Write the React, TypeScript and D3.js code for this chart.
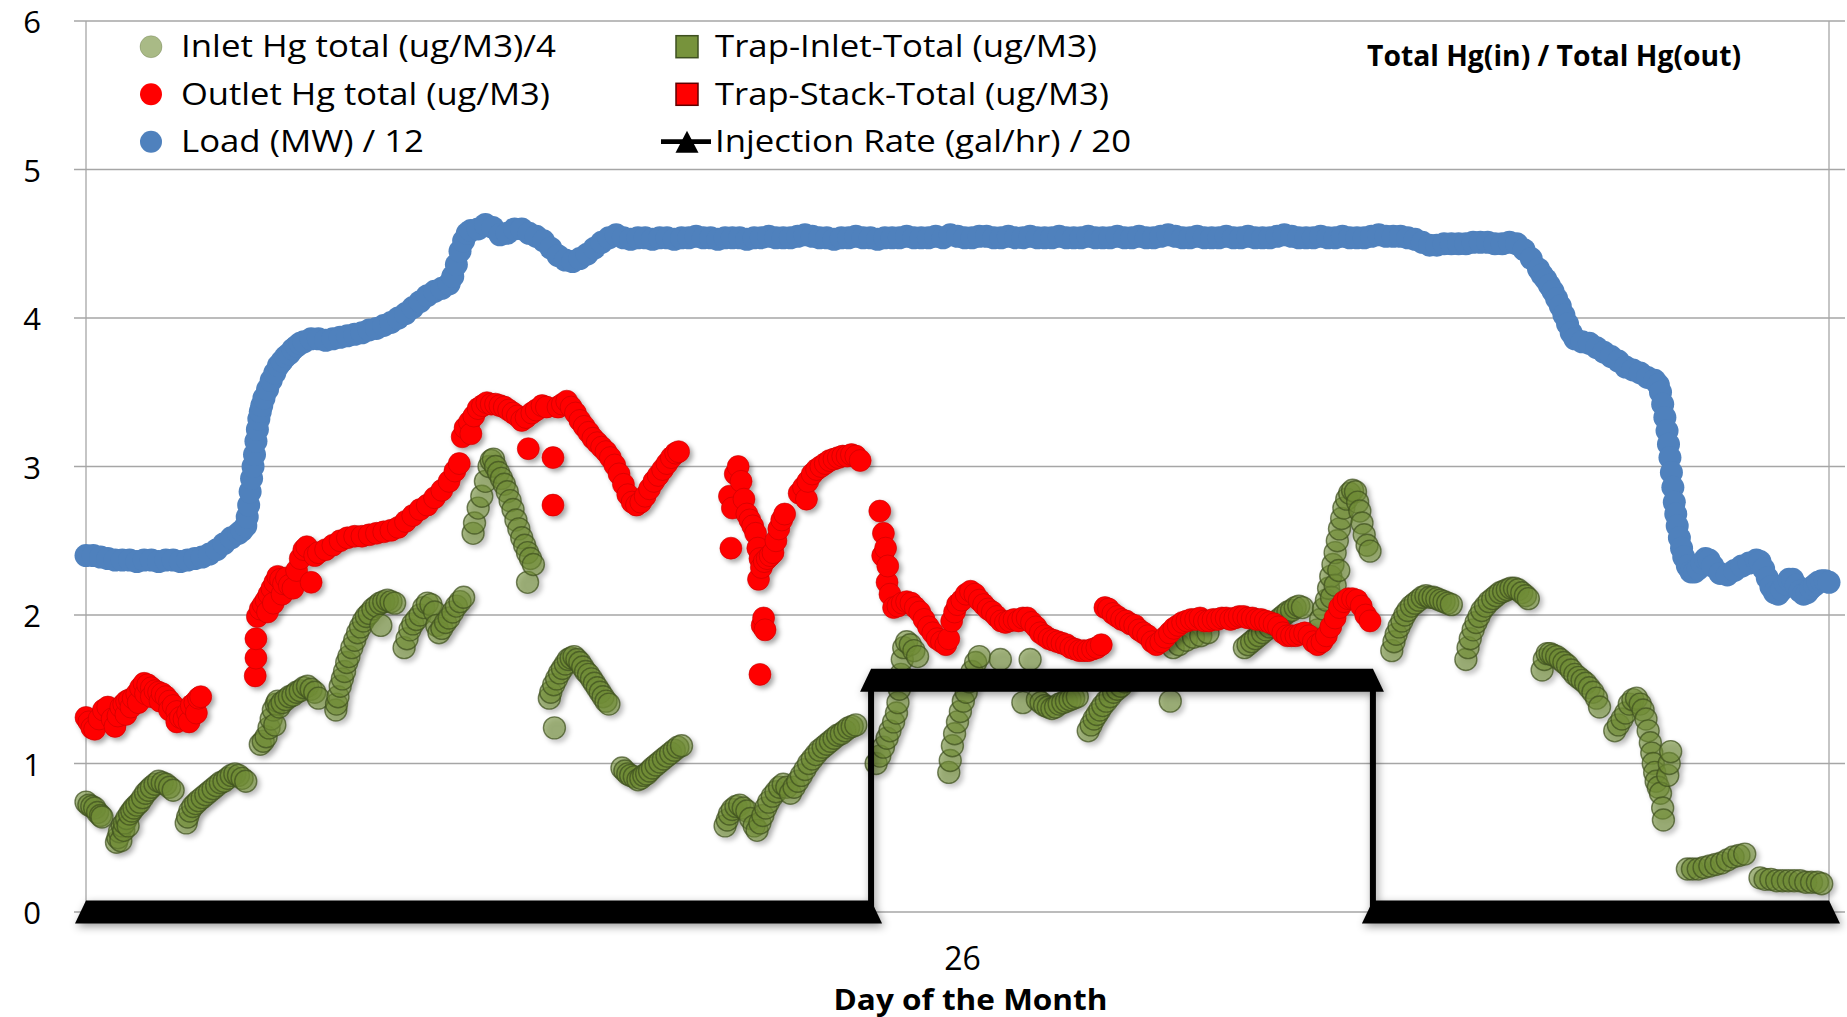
import React from "react";
import * as d3 from "d3";

type Pt = [number, number]; // [hours after noon on day 25, plotted value]

// ---- axis ticks and titles ----
const Y_TICKS = [0, 1, 2, 3, 4, 5, 6];
const X_TICKS: { hour: number; label: string }[] = [{ hour: 12, label: "26" }];
const X_TITLE = "Day of the Month";
const NOTE = "Total Hg(in) / Total Hg(out)";

// ---- series names (legend order) ----
const SERIES_NAMES = [
  "Inlet Hg total (ug/M3)/4",
  "Outlet Hg total (ug/M3)",
  "Load (MW) / 12",
  "Trap-Inlet-Total (ug/M3)",
  "Trap-Stack-Total (ug/M3)",
  "Injection Rate (gal/hr) / 20",
];

// ---- Load (MW) / 12 ----
const LOAD: Pt[] = [
  [0.0, 2.4], [0.1, 2.4], [0.2, 2.39], [0.3, 2.38], [0.4, 2.37], [0.5, 2.37], [0.6, 2.37], [0.7, 2.36],
  [0.8, 2.37], [0.9, 2.37], [1.0, 2.36], [1.1, 2.37], [1.2, 2.37], [1.3, 2.36], [1.4, 2.37], [1.5, 2.38],
  [1.6, 2.39], [1.7, 2.41], [1.8, 2.44], [1.9, 2.48], [2.0, 2.52], [2.1, 2.55], [2.15, 2.57], [2.2, 2.6],
  [2.22, 2.66], [2.24, 2.74], [2.26, 2.83], [2.28, 2.92], [2.3, 3.0], [2.32, 3.08], [2.34, 3.17], [2.36, 3.25],
  [2.38, 3.32], [2.4, 3.37], [2.42, 3.41], [2.45, 3.46], [2.5, 3.52], [2.55, 3.58], [2.6, 3.63], [2.65, 3.68],
  [2.7, 3.71], [2.75, 3.74], [2.8, 3.76], [2.85, 3.79], [2.9, 3.81], [2.95, 3.83], [3.0, 3.84], [3.1, 3.86],
  [3.2, 3.86], [3.3, 3.85], [3.4, 3.86], [3.5, 3.87], [3.6, 3.88], [3.7, 3.89], [3.8, 3.9], [3.9, 3.92],
  [4.0, 3.93], [4.1, 3.95], [4.2, 3.97], [4.3, 4.0], [4.4, 4.03], [4.5, 4.07], [4.6, 4.11], [4.7, 4.15],
  [4.8, 4.18], [4.9, 4.2], [5.0, 4.23], [5.05, 4.28], [5.1, 4.36], [5.15, 4.45], [5.2, 4.52], [5.25, 4.57],
  [5.3, 4.59], [5.4, 4.6], [5.5, 4.63], [5.6, 4.61], [5.7, 4.56], [5.8, 4.57], [5.9, 4.6], [6.0, 4.6],
  [6.1, 4.57], [6.2, 4.55], [6.3, 4.52], [6.4, 4.47], [6.5, 4.42], [6.6, 4.39], [6.7, 4.38], [6.8, 4.4],
  [6.9, 4.43], [7.0, 4.47], [7.1, 4.51], [7.2, 4.54], [7.3, 4.56], [7.4, 4.54], [7.5, 4.53], [7.6, 4.54],
  [7.7, 4.54], [7.8, 4.53], [7.9, 4.54], [8.0, 4.54], [8.1, 4.53], [8.2, 4.54], [8.3, 4.54], [8.4, 4.55],
  [8.5, 4.54], [8.6, 4.54], [8.7, 4.53], [8.8, 4.54], [8.9, 4.54], [9.0, 4.54], [9.1, 4.53], [9.2, 4.54],
  [9.3, 4.54], [9.4, 4.55], [9.5, 4.54], [9.6, 4.54], [9.7, 4.54], [9.8, 4.55], [9.9, 4.56], [10.0, 4.55],
  [10.1, 4.54], [10.2, 4.54], [10.3, 4.53], [10.4, 4.54], [10.5, 4.54], [10.6, 4.55], [10.7, 4.54], [10.8, 4.54],
  [10.9, 4.53], [11.0, 4.54], [11.1, 4.54], [11.2, 4.54], [11.3, 4.55], [11.4, 4.54], [11.5, 4.54], [11.6, 4.54],
  [11.7, 4.55], [11.8, 4.54], [11.9, 4.56], [12.0, 4.55], [12.1, 4.54], [12.2, 4.54], [12.3, 4.55], [12.4, 4.55],
  [12.5, 4.54], [12.6, 4.54], [12.7, 4.55], [12.8, 4.54], [12.9, 4.54], [13.0, 4.55], [13.1, 4.54], [13.2, 4.54],
  [13.3, 4.54], [13.4, 4.55], [13.5, 4.54], [13.6, 4.54], [13.7, 4.54], [13.8, 4.55], [13.9, 4.54], [14.0, 4.54],
  [14.1, 4.54], [14.2, 4.55], [14.3, 4.54], [14.4, 4.54], [14.5, 4.55], [14.6, 4.54], [14.7, 4.54], [14.8, 4.55],
  [14.9, 4.56], [15.0, 4.55], [15.1, 4.54], [15.2, 4.54], [15.3, 4.55], [15.4, 4.54], [15.5, 4.54], [15.6, 4.54],
  [15.7, 4.55], [15.8, 4.54], [15.9, 4.54], [16.0, 4.55], [16.1, 4.54], [16.2, 4.54], [16.3, 4.54], [16.4, 4.55],
  [16.5, 4.56], [16.6, 4.55], [16.7, 4.54], [16.8, 4.54], [16.9, 4.54], [17.0, 4.55], [17.1, 4.54], [17.2, 4.54],
  [17.3, 4.55], [17.4, 4.54], [17.5, 4.54], [17.6, 4.54], [17.7, 4.55], [17.8, 4.56], [17.9, 4.55], [18.0, 4.55],
  [18.1, 4.55], [18.2, 4.54], [18.3, 4.53], [18.4, 4.51], [18.5, 4.49], [18.6, 4.49], [18.7, 4.5], [18.8, 4.5],
  [18.9, 4.5], [19.0, 4.5], [19.1, 4.51], [19.2, 4.51], [19.3, 4.51], [19.4, 4.5], [19.5, 4.5], [19.6, 4.51],
  [19.7, 4.5], [19.8, 4.46], [19.9, 4.4], [20.0, 4.33], [20.05, 4.29], [20.1, 4.26], [20.15, 4.22], [20.2, 4.18],
  [20.25, 4.13], [20.3, 4.08], [20.35, 4.02], [20.4, 3.96], [20.45, 3.9], [20.5, 3.86], [20.6, 3.84], [20.7, 3.83],
  [20.8, 3.8], [20.9, 3.77], [21.0, 3.74], [21.1, 3.71], [21.2, 3.67], [21.3, 3.65], [21.4, 3.63], [21.5, 3.6],
  [21.6, 3.58], [21.65, 3.55], [21.68, 3.5], [21.71, 3.42], [21.74, 3.33], [21.77, 3.24], [21.79, 3.15], [21.81, 3.06],
  [21.83, 2.96], [21.85, 2.86], [21.87, 2.76], [21.89, 2.68], [21.91, 2.6], [21.94, 2.52], [21.97, 2.45], [22.0, 2.39],
  [22.05, 2.33], [22.1, 2.29], [22.15, 2.29], [22.2, 2.31], [22.25, 2.35], [22.3, 2.38], [22.35, 2.37], [22.4, 2.33],
  [22.5, 2.28], [22.6, 2.27], [22.7, 2.3], [22.8, 2.33], [22.9, 2.35], [23.0, 2.37], [23.05, 2.36], [23.1, 2.31],
  [23.15, 2.25], [23.2, 2.19], [23.25, 2.15], [23.3, 2.14], [23.35, 2.17], [23.4, 2.21], [23.45, 2.24], [23.5, 2.24],
  [23.55, 2.2], [23.6, 2.16], [23.65, 2.14], [23.7, 2.15], [23.75, 2.18], [23.8, 2.2], [23.85, 2.22], [23.9, 2.23],
  [23.95, 2.23], [24.0, 2.22],
];

// ---- Inlet Hg total (ug/M3) / 4 ----
const INLET_HG: Pt[] = [
  [0.0, 0.74], [0.04, 0.72], [0.08, 0.71], [0.12, 0.7], [0.16, 0.67], [0.2, 0.65], [0.22, 0.64],
  [0.42, 0.47], [0.44, 0.5], [0.46, 0.54], [0.48, 0.48], [0.5, 0.58], [0.52, 0.55], [0.53, 0.6], [0.56, 0.63],
  [0.58, 0.58], [0.6, 0.66], [0.63, 0.68], [0.66, 0.7], [0.7, 0.72], [0.74, 0.74], [0.78, 0.77], [0.82, 0.8],
  [0.86, 0.82], [0.9, 0.84], [0.95, 0.86], [1.0, 0.88], [1.05, 0.87], [1.1, 0.86], [1.15, 0.84], [1.2, 0.82],
  [1.38, 0.6], [1.4, 0.64], [1.43, 0.68], [1.47, 0.71], [1.51, 0.73], [1.55, 0.75], [1.6, 0.77], [1.65, 0.79],
  [1.7, 0.81], [1.75, 0.83], [1.8, 0.85], [1.85, 0.87], [1.9, 0.88], [1.95, 0.9], [2.0, 0.92], [2.05, 0.93],
  [2.1, 0.92], [2.15, 0.9], [2.2, 0.88],
  [2.4, 1.13], [2.44, 1.15], [2.48, 1.18], [2.52, 1.24], [2.55, 1.3], [2.58, 1.36], [2.6, 1.26], [2.62, 1.4],
  [2.64, 1.42], [2.66, 1.38], [2.7, 1.41], [2.75, 1.43], [2.8, 1.45], [2.85, 1.46], [2.9, 1.48], [2.95, 1.49],
  [3.0, 1.51], [3.05, 1.52], [3.1, 1.5], [3.15, 1.48], [3.2, 1.44],
  [3.44, 1.36], [3.45, 1.4], [3.47, 1.45], [3.5, 1.52], [3.53, 1.57], [3.56, 1.62], [3.59, 1.68], [3.62, 1.72],
  [3.66, 1.78], [3.7, 1.83], [3.74, 1.88], [3.78, 1.92], [3.82, 1.96], [3.86, 1.99], [3.9, 2.01], [3.95, 2.04],
  [4.0, 2.06], [4.05, 2.08], [4.06, 1.93], [4.1, 2.09], [4.15, 2.1], [4.2, 2.09], [4.25, 2.08],
  [4.38, 1.78], [4.42, 1.84], [4.46, 1.9], [4.5, 1.94], [4.55, 1.97], [4.6, 2.0], [4.65, 2.05], [4.7, 2.08],
  [4.75, 2.07], [4.8, 2.02], [4.83, 1.93], [4.86, 1.88], [4.9, 1.91], [4.95, 1.95], [5.0, 1.98], [5.05, 2.02],
  [5.1, 2.06], [5.15, 2.09], [5.2, 2.12],
  [5.33, 2.55], [5.35, 2.62], [5.4, 2.72], [5.45, 2.8], [5.5, 2.9], [5.55, 3.0], [5.58, 3.04], [5.61, 3.05],
  [5.64, 3.0], [5.68, 2.96], [5.72, 2.92], [5.76, 2.88], [5.8, 2.83], [5.84, 2.77], [5.88, 2.71], [5.92, 2.64],
  [5.96, 2.58], [6.0, 2.52], [6.04, 2.47], [6.08, 2.42], [6.08, 2.22], [6.12, 2.38], [6.16, 2.34],
  [6.38, 1.44], [6.4, 1.48], [6.44, 1.53], [6.45, 1.24], [6.48, 1.57], [6.52, 1.61], [6.56, 1.64], [6.6, 1.67],
  [6.64, 1.7], [6.68, 1.71], [6.72, 1.72], [6.76, 1.7], [6.8, 1.68], [6.84, 1.65], [6.88, 1.62], [6.92, 1.6],
  [6.96, 1.57], [7.0, 1.54], [7.04, 1.51], [7.08, 1.48], [7.12, 1.45], [7.16, 1.42], [7.2, 1.4],
  [7.38, 0.97], [7.42, 0.95], [7.46, 0.93], [7.5, 0.92], [7.55, 0.91], [7.6, 0.89], [7.64, 0.9], [7.68, 0.92],
  [7.72, 0.93], [7.76, 0.95], [7.8, 0.97], [7.85, 0.99], [7.9, 1.01], [7.95, 1.03], [8.0, 1.05], [8.05, 1.07],
  [8.1, 1.09], [8.15, 1.11], [8.2, 1.12],
  [8.8, 0.58], [8.83, 0.62], [8.86, 0.66], [8.9, 0.69], [8.95, 0.71], [9.0, 0.72], [9.05, 0.7], [9.1, 0.68],
  [9.15, 0.63], [9.2, 0.58], [9.24, 0.55], [9.28, 0.6], [9.32, 0.65], [9.36, 0.7], [9.4, 0.74], [9.45, 0.78],
  [9.5, 0.81], [9.55, 0.84], [9.6, 0.86], [9.65, 0.84], [9.7, 0.8], [9.75, 0.84], [9.8, 0.88], [9.85, 0.92],
  [9.9, 0.96], [9.95, 1.0], [10.0, 1.03], [10.05, 1.06], [10.1, 1.09], [10.15, 1.11], [10.2, 1.13], [10.25, 1.15],
  [10.3, 1.17], [10.35, 1.19], [10.4, 1.2], [10.45, 1.22], [10.5, 1.24], [10.55, 1.25], [10.6, 1.26],
  [10.88, 1.0], [10.93, 1.05], [10.98, 1.11], [11.03, 1.17], [11.07, 1.22], [11.12, 1.28], [11.16, 1.34],
  [11.18, 1.41], [11.2, 1.5], [11.22, 1.6], [11.24, 1.7], [11.26, 1.78], [11.3, 1.82], [11.35, 1.8], [11.4, 1.76],
  [11.45, 1.72],
  [11.88, 0.94], [11.9, 1.02], [11.93, 1.12], [11.96, 1.2], [12.0, 1.28], [12.04, 1.35], [12.08, 1.42], [12.12, 1.48],
  [12.16, 1.55], [12.2, 1.62], [12.25, 1.68], [12.3, 1.72], [12.59, 1.7], [12.9, 1.41], [13.0, 1.7],
  [13.1, 1.43], [13.15, 1.41], [13.2, 1.39], [13.25, 1.38], [13.3, 1.37], [13.35, 1.38], [13.4, 1.4], [13.45, 1.41],
  [13.5, 1.42], [13.55, 1.43], [13.6, 1.44], [13.65, 1.45],
  [13.8, 1.22], [13.84, 1.26], [13.88, 1.3], [13.92, 1.33], [13.96, 1.36], [14.0, 1.39], [14.05, 1.42], [14.1, 1.45],
  [14.15, 1.48], [14.2, 1.5], [14.25, 1.52], [14.3, 1.55],
  [14.93, 1.42], [14.97, 1.78], [15.05, 1.8], [15.15, 1.83], [15.25, 1.85], [15.35, 1.86], [15.45, 1.88],
  [15.95, 1.78], [16.0, 1.8], [16.05, 1.82], [16.1, 1.84], [16.15, 1.86], [16.2, 1.88], [16.25, 1.9], [16.3, 1.92],
  [16.35, 1.94], [16.4, 1.96], [16.45, 1.98], [16.5, 2.0], [16.55, 2.02], [16.6, 2.03], [16.65, 2.05], [16.7, 2.06],
  [16.75, 2.05],
  [16.92, 1.84], [16.96, 1.9], [17.0, 1.97], [17.04, 2.04], [17.08, 2.1], [17.11, 2.18], [17.14, 2.26], [17.15, 2.12],
  [17.17, 2.34], [17.2, 2.42], [17.2, 2.2], [17.23, 2.5], [17.25, 2.3], [17.26, 2.58], [17.29, 2.65], [17.32, 2.72],
  [17.36, 2.78], [17.4, 2.82], [17.44, 2.84], [17.48, 2.83], [17.51, 2.76], [17.54, 2.7], [17.57, 2.62], [17.6, 2.54],
  [17.64, 2.47], [17.68, 2.43],
  [17.98, 1.76], [18.01, 1.82], [18.04, 1.87], [18.08, 1.92], [18.12, 1.96], [18.16, 2.0], [18.2, 2.03], [18.25, 2.06],
  [18.3, 2.08], [18.35, 2.1], [18.4, 2.12], [18.45, 2.13], [18.5, 2.12], [18.55, 2.12], [18.6, 2.11], [18.65, 2.1],
  [18.7, 2.09], [18.75, 2.08], [18.8, 2.07],
  [19.0, 1.7], [19.03, 1.78], [19.06, 1.84], [19.1, 1.9], [19.14, 1.95], [19.18, 1.99], [19.22, 2.03], [19.27, 2.06],
  [19.32, 2.09], [19.37, 2.11], [19.42, 2.13], [19.47, 2.15], [19.52, 2.16], [19.57, 2.17], [19.62, 2.18], [19.67, 2.18],
  [19.72, 2.17], [19.77, 2.15], [19.82, 2.13], [19.86, 2.11],
  [20.05, 1.63], [20.08, 1.7], [20.12, 1.74], [20.16, 1.74], [20.2, 1.73], [20.25, 1.72], [20.3, 1.7], [20.35, 1.68],
  [20.4, 1.66], [20.45, 1.63], [20.5, 1.6], [20.55, 1.58], [20.6, 1.56], [20.65, 1.54], [20.7, 1.51], [20.75, 1.48],
  [20.8, 1.44], [20.84, 1.38],
  [21.05, 1.22], [21.1, 1.26], [21.15, 1.3], [21.2, 1.34], [21.25, 1.4], [21.3, 1.43], [21.35, 1.44], [21.4, 1.4],
  [21.44, 1.36], [21.48, 1.3], [21.51, 1.22], [21.54, 1.14], [21.56, 1.07], [21.58, 1.0], [21.6, 0.94], [21.62, 0.88],
  [21.65, 0.84], [21.68, 0.8], [21.71, 0.7], [21.72, 0.62], [21.78, 0.92], [21.8, 1.0], [21.82, 1.08],
  [22.05, 0.29], [22.12, 0.29], [22.2, 0.29], [22.28, 0.3], [22.36, 0.31], [22.44, 0.32], [22.52, 0.33], [22.6, 0.35],
  [22.68, 0.37], [22.76, 0.38], [22.84, 0.39],
  [23.05, 0.23], [23.12, 0.22], [23.2, 0.22], [23.28, 0.21], [23.36, 0.21], [23.44, 0.21], [23.52, 0.21], [23.6, 0.21],
  [23.68, 0.2], [23.76, 0.2], [23.84, 0.2], [23.9, 0.19],
];

// ---- Outlet Hg total (ug/M3) ----
const OUTLET_HG: Pt[] = [
  [0.0, 1.31], [0.04, 1.28], [0.08, 1.24], [0.12, 1.23], [0.18, 1.3], [0.24, 1.36], [0.3, 1.38], [0.36, 1.3],
  [0.4, 1.25], [0.44, 1.32], [0.48, 1.38], [0.52, 1.4], [0.55, 1.33], [0.56, 1.42], [0.6, 1.43], [0.62, 1.38],
  [0.65, 1.44], [0.7, 1.47], [0.72, 1.41], [0.75, 1.51], [0.8, 1.54], [0.82, 1.47], [0.85, 1.53], [0.9, 1.51],
  [0.9, 1.45], [0.95, 1.49], [1.0, 1.48], [1.02, 1.42], [1.05, 1.47], [1.1, 1.45], [1.15, 1.42], [1.15, 1.36],
  [1.2, 1.39], [1.25, 1.35], [1.25, 1.28], [1.3, 1.31], [1.35, 1.3], [1.4, 1.34], [1.42, 1.28], [1.45, 1.39],
  [1.5, 1.41], [1.52, 1.34], [1.55, 1.44], [1.58, 1.45],
  [2.33, 1.59], [2.34, 1.71], [2.34, 1.84], [2.36, 1.99],
  [2.4, 2.04], [2.44, 2.07], [2.48, 2.1], [2.5, 2.02], [2.52, 2.14], [2.56, 2.18], [2.58, 2.08], [2.6, 2.22],
  [2.64, 2.26], [2.68, 2.24], [2.7, 2.14], [2.72, 2.21], [2.76, 2.25], [2.8, 2.2], [2.85, 2.18], [2.9, 2.3],
  [2.95, 2.38], [3.0, 2.44], [3.04, 2.46], [3.1, 2.22], [3.15, 2.4], [3.2, 2.42], [3.3, 2.44], [3.4, 2.47],
  [3.5, 2.5], [3.6, 2.52], [3.7, 2.53], [3.8, 2.53], [3.9, 2.54], [4.0, 2.55], [4.1, 2.56], [4.2, 2.57],
  [4.3, 2.59], [4.4, 2.63], [4.5, 2.67], [4.6, 2.71], [4.7, 2.74], [4.8, 2.79], [4.9, 2.84], [5.0, 2.9],
  [5.08, 2.97], [5.14, 3.02], [5.18, 3.2], [5.22, 3.26], [5.28, 3.3], [5.3, 3.22], [5.34, 3.34], [5.4, 3.39],
  [5.46, 3.41], [5.52, 3.43], [5.58, 3.42], [5.64, 3.42], [5.7, 3.41], [5.76, 3.4], [5.82, 3.38], [5.88, 3.36],
  [5.94, 3.34], [6.0, 3.31], [6.06, 3.33], [6.09, 3.12], [6.14, 3.36], [6.2, 3.38], [6.28, 3.41], [6.34, 3.4],
  [6.43, 3.06], [6.43, 2.74], [6.5, 3.4], [6.56, 3.42], [6.62, 3.44], [6.68, 3.4], [6.74, 3.36], [6.8, 3.31],
  [6.86, 3.27], [6.92, 3.23], [6.98, 3.19], [7.04, 3.16], [7.1, 3.13], [7.16, 3.1], [7.22, 3.06], [7.28, 3.01],
  [7.34, 2.95], [7.4, 2.88], [7.46, 2.81], [7.52, 2.76], [7.58, 2.74], [7.64, 2.76], [7.7, 2.8], [7.76, 2.85],
  [7.82, 2.9], [7.88, 2.94], [7.94, 2.98], [8.0, 3.02], [8.06, 3.06], [8.12, 3.09], [8.16, 3.1],
  [8.86, 2.8], [8.88, 2.45], [8.9, 2.72], [8.94, 2.95], [8.98, 3.0], [9.02, 2.9], [9.06, 2.78], [9.1, 2.68],
  [9.14, 2.64], [9.18, 2.6], [9.22, 2.55], [9.25, 2.45], [9.26, 2.24], [9.28, 2.38], [9.28, 1.6], [9.3, 2.32],
  [9.31, 1.93], [9.33, 1.98], [9.34, 2.36], [9.35, 1.9], [9.38, 2.38], [9.42, 2.4], [9.46, 2.42], [9.5, 2.5],
  [9.54, 2.58], [9.58, 2.64], [9.62, 2.68],
  [9.82, 2.82], [9.88, 2.86], [9.92, 2.78], [9.94, 2.9], [10.0, 2.95], [10.06, 2.98], [10.12, 3.0], [10.18, 3.02],
  [10.24, 3.04], [10.3, 3.05], [10.36, 3.06], [10.42, 3.07], [10.48, 3.07], [10.54, 3.08], [10.6, 3.07], [10.66, 3.04],
  [10.93, 2.7], [10.97, 2.4], [10.98, 2.55], [11.01, 2.45], [11.03, 2.22], [11.04, 2.33], [11.07, 2.14], [11.12, 2.05],
  [11.18, 2.06], [11.24, 2.08], [11.3, 2.09], [11.36, 2.08], [11.42, 2.05], [11.48, 2.02], [11.54, 1.97], [11.6, 1.92],
  [11.66, 1.88], [11.72, 1.84], [11.78, 1.82], [11.84, 1.8], [11.88, 1.84], [11.92, 1.96], [11.96, 2.02], [12.0, 2.07],
  [12.06, 2.1], [12.12, 2.14], [12.18, 2.16], [12.24, 2.14], [12.3, 2.1], [12.36, 2.07], [12.42, 2.04], [12.48, 2.02],
  [12.54, 1.99], [12.6, 1.96], [12.66, 1.95], [12.72, 1.96], [12.78, 1.97], [12.84, 1.96], [12.9, 1.98], [12.96, 1.98],
  [13.02, 1.95], [13.08, 1.92], [13.14, 1.88], [13.2, 1.86], [13.26, 1.84], [13.32, 1.83], [13.38, 1.82], [13.44, 1.81],
  [13.5, 1.8], [13.56, 1.78], [13.62, 1.77], [13.68, 1.76], [13.74, 1.76], [13.8, 1.76], [13.86, 1.77], [13.92, 1.78],
  [13.98, 1.8], [14.03, 2.05], [14.08, 2.04], [14.14, 2.01], [14.2, 1.99], [14.26, 1.97], [14.32, 1.96], [14.38, 1.94],
  [14.44, 1.93], [14.5, 1.9], [14.56, 1.88], [14.62, 1.86], [14.68, 1.82], [14.74, 1.8], [14.8, 1.82], [14.86, 1.85],
  [14.92, 1.88], [14.98, 1.91], [15.04, 1.93], [15.1, 1.95], [15.16, 1.96], [15.22, 1.97], [15.28, 1.97], [15.34, 1.98],
  [15.4, 1.96], [15.46, 1.96], [15.52, 1.97], [15.58, 1.97], [15.64, 1.98], [15.7, 1.98], [15.76, 1.97], [15.82, 1.98],
  [15.88, 1.99], [15.94, 1.99], [16.0, 1.98], [16.06, 1.98], [16.12, 1.97], [16.18, 1.97], [16.24, 1.96], [16.3, 1.95],
  [16.36, 1.94], [16.42, 1.92], [16.48, 1.88], [16.54, 1.86], [16.6, 1.86], [16.66, 1.86], [16.72, 1.87], [16.78, 1.88],
  [16.84, 1.86], [16.9, 1.82], [16.96, 1.8], [17.02, 1.82], [17.08, 1.86], [17.14, 1.92], [17.2, 1.98], [17.26, 2.05],
  [17.32, 2.09], [17.38, 2.11], [17.44, 2.11], [17.5, 2.1], [17.56, 2.06], [17.62, 2.0], [17.68, 1.96],
];

// ---- series with a legend entry but no samples in this window ----
const TRAP_INLET: Pt[] = [];
const TRAP_STACK: Pt[] = [];

// ---- Injection Rate (gal/hr) / 20, as a step trace ----
const INJECTION: Pt[] = [
  [0, 0], [10.81, 0], [10.81, 1.56], [17.72, 1.56], [17.72, 0], [24, 0],
];

const FONT = "'Open Sans', 'Liberation Sans', sans-serif";
const GREEN = "#6f8c36";
const GREEN_EDGE = "#3e5020";
const RED = "#ff0000";
const BLUE = "#4f81bd";
const GRID = "#a6a6a6";

export default function App() {
  const W = 1847;
  const H = 1017;
  const x = d3.scaleLinear().domain([0, 24]).range([86, 1829]);
  const y = d3.scaleLinear().domain([0, 6]).range([912, 21]);
  const R = 11;
  const RL = 11.5;

  // flat runs of the injection trace, drawn as a continuous row of triangle markers
  const runs: { h0: number; h1: number; v: number }[] = [];
  for (let i = 0; i < INJECTION.length - 1; i++) {
    const [h0, v0] = INJECTION[i];
    const [h1, v1] = INJECTION[i + 1];
    if (v0 === v1 && h1 > h0) runs.push({ h0, h1, v: v0 });
  }
  const TW = 11;
  const TH = 11.5;
  const runPath = (r: { h0: number; h1: number; v: number }) =>
    `M${x(r.h0) - TW},${y(r.v) + TH}L${x(r.h0)},${y(r.v) - TH}L${x(r.h1)},${y(r.v) - TH}L${x(r.h1) + TW},${y(r.v) + TH}Z`;
  const injLine = d3.line<Pt>().x((d) => x(d[0])).y((d) => y(d[1]));

  const [xMin, xMax] = x.range();

  // legend layout
  const rowY = [46.7, 94.3, 141.7];
  const col1 = { mark: 151, text: 181 };
  const col2 = { mark: 687, text: 715 };
  const legendWidths = [375, 369, 243, 382, 394, 416];

  const legendText = (i: number, tx: number, ty: number) => (
    <text
      key={"lt" + i}
      x={tx}
      y={ty + 10.5}
      fontFamily={FONT}
      fontSize={31}
      fill="#000"
      textLength={legendWidths[i]}
      lengthAdjust="spacingAndGlyphs"
    >
      {SERIES_NAMES[i]}
    </text>
  );

  return (
    <svg
      width={W}
      height={H}
      viewBox={`0 0 ${W} ${H}`}
      style={{ position: "absolute", left: 0, top: 0, display: "block", background: "#fff" }}
    >
      <defs>
        <filter id="markShadow" x="-20%" y="-20%" width="140%" height="140%">
          <feDropShadow dx="3" dy="3" stdDeviation="2.5" floodColor="#000" floodOpacity="0.35" />
        </filter>
        <filter id="bandShadow" x="-5%" y="-50%" width="110%" height="200%">
          <feDropShadow dx="2" dy="3" stdDeviation="4" floodColor="#000" floodOpacity="0.4" />
        </filter>
      </defs>
      <rect x={0} y={0} width={W} height={H} fill="#fff" />

      {/* gridlines and axis frame */}
      {Y_TICKS.map((t) => (
        <line key={"g" + t} x1={74} x2={1845} y1={y(t)} y2={y(t)} stroke={GRID} strokeWidth={1.3} />
      ))}
      <line x1={xMin} x2={xMin} y1={y(6)} y2={y(0)} stroke={GRID} strokeWidth={1.3} />
      <line x1={xMax} x2={xMax} y1={y(6)} y2={y(0)} stroke={GRID} strokeWidth={1.3} />

      {/* y tick labels */}
      {Y_TICKS.map((t) => (
        <text key={"yl" + t} x={41} y={y(t) + 12} textAnchor="end" fontFamily={FONT} fontSize={31} fill="#000">
          {t}
        </text>
      ))}

      {/* x tick labels and title */}
      {X_TICKS.map((t) => (
        <text key={"xl" + t.label} x={x(t.hour) + 5} y={970} textAnchor="middle" fontFamily={FONT} fontSize={32} fill="#000">
          {t.label}
        </text>
      ))}
      <text
        x={970.5}
        y={1010}
        textAnchor="middle"
        fontFamily={FONT}
        fontWeight={700}
        fontSize={29}
        fill="#000"
        textLength={274}
        lengthAdjust="spacingAndGlyphs"
      >
        {X_TITLE}
      </text>

      {/* Inlet Hg */}
      <g filter="url(#markShadow)">
        {INLET_HG.map((d, i) => (
          <circle
            key={"in" + i}
            cx={x(d[0])}
            cy={y(d[1])}
            r={R}
            fill={GREEN}
            fillOpacity={0.6}
            stroke={GREEN_EDGE}
            strokeOpacity={0.7}
            strokeWidth={1.4}
          />
        ))}
      </g>

      {/* Outlet Hg */}
      <g filter="url(#markShadow)">
        {OUTLET_HG.map((d, i) => (
          <circle key={"out" + i} cx={x(d[0])} cy={y(d[1])} r={R} fill={RED} stroke="#c00000" strokeOpacity={0.55} strokeWidth={1} />
        ))}
      </g>

      {/* Load */}
      <g>
        {LOAD.map((d, i) => (
          <circle key={"ld" + i} cx={x(d[0])} cy={y(d[1])} r={RL} fill={BLUE} />
        ))}
      </g>

      {/* trap series (no samples in range) */}
      <g>
        {TRAP_INLET.map((d, i) => (
          <rect key={"ti" + i} x={x(d[0]) - 10} y={y(d[1]) - 10} width={20} height={20} fill={GREEN} stroke={GREEN_EDGE} />
        ))}
        {TRAP_STACK.map((d, i) => (
          <rect key={"ts" + i} x={x(d[0]) - 10} y={y(d[1]) - 10} width={20} height={20} fill={RED} stroke="#7f0000" />
        ))}
      </g>

      {/* Injection rate */}
      <g filter="url(#bandShadow)">
        <path d={injLine(INJECTION) || ""} fill="none" stroke="#000" strokeWidth={6} />
        {runs.map((r, i) => (
          <path key={"run" + i} d={runPath(r)} fill="#000" />
        ))}
      </g>

      {/* legend */}
      <circle cx={col1.mark} cy={rowY[0]} r={11} fill={GREEN} fillOpacity={0.6} stroke={GREEN_EDGE} strokeOpacity={0.25} />
      <circle cx={col1.mark} cy={rowY[1]} r={11} fill={RED} />
      <circle cx={col1.mark} cy={rowY[2]} r={11} fill={BLUE} />
      {legendText(0, col1.text, rowY[0])}
      {legendText(1, col1.text, rowY[1])}
      {legendText(2, col1.text, rowY[2])}

      <rect x={col2.mark - 11} y={rowY[0] - 11} width={22} height={22} fill="#77933c" stroke={GREEN_EDGE} strokeWidth={1.5} />
      <rect x={col2.mark - 11} y={rowY[1] - 11} width={22} height={22} fill={RED} stroke="#600000" strokeWidth={1.5} />
      <line x1={661} x2={711} y1={rowY[2]} y2={rowY[2]} stroke="#000" strokeWidth={4.7} />
      <path
        d={`M${col2.mark},${rowY[2] - 11}L${col2.mark + 11.5},${rowY[2] + 11}L${col2.mark - 11.5},${rowY[2] + 11}Z`}
        fill="#000"
      />
      {legendText(3, col2.text, rowY[0])}
      {legendText(4, col2.text, rowY[1])}
      {legendText(5, col2.text, rowY[2])}

      {/* note */}
      <text
        x={1367}
        y={66}
        fontFamily={FONT}
        fontWeight={700}
        fontSize={28}
        fill="#000"
        textLength={374}
        lengthAdjust="spacingAndGlyphs"
      >
        {NOTE}
      </text>
    </svg>
  );
}
